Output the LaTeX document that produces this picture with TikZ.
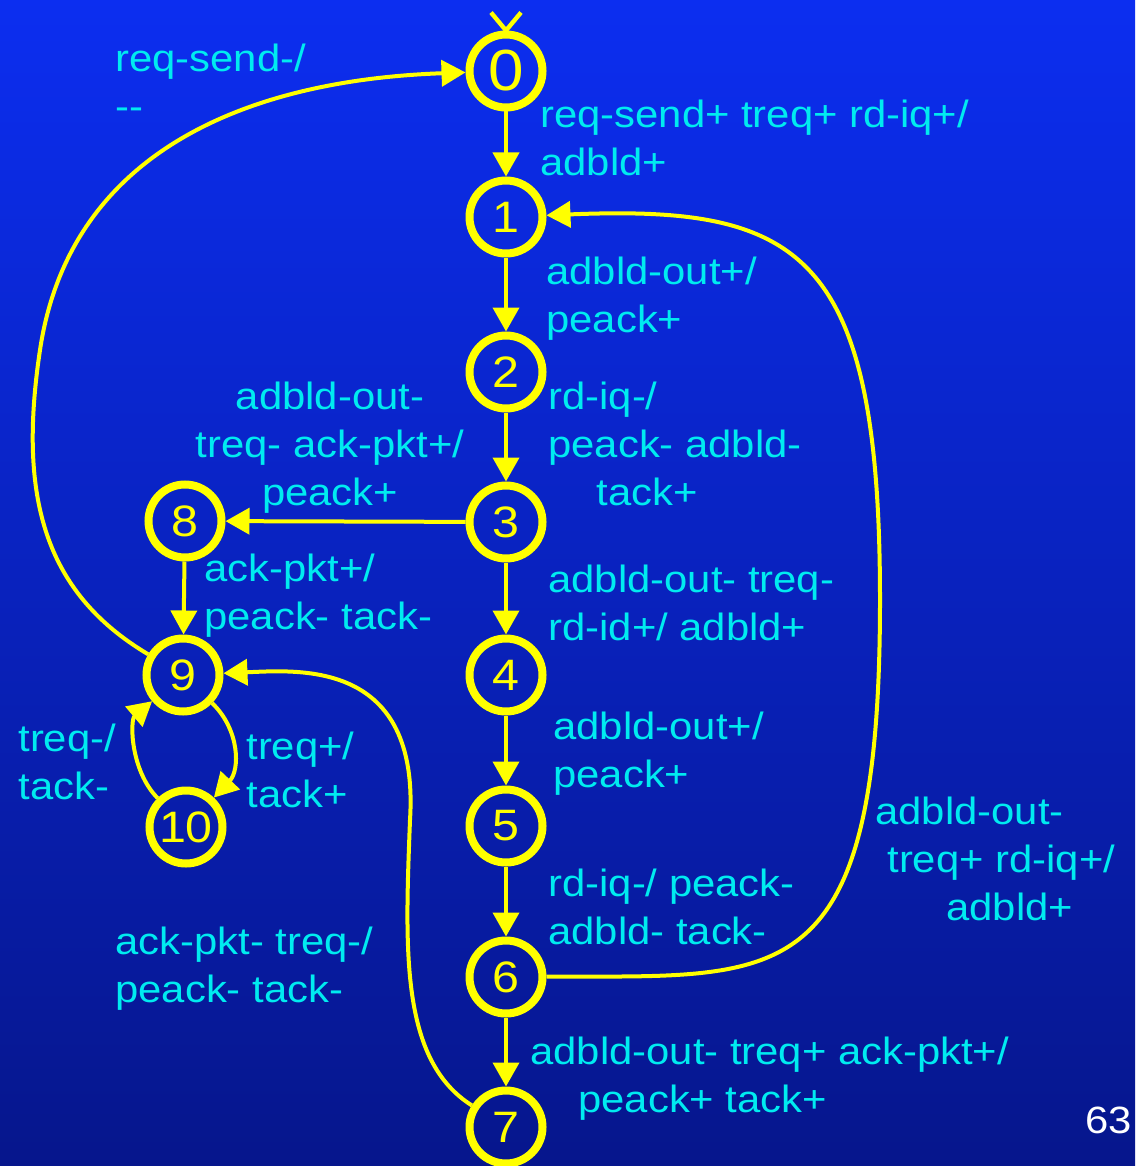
\documentclass[tikz,border=0pt]{standalone}
\usepackage{fontspec}
\setmainfont{Liberation Sans}[FakeStretch=1.1]
\usetikzlibrary{arrows.meta}
\definecolor{stateyellow}{RGB}{255,255,0}
\definecolor{labelcyan}{RGB}{0,235,240}
\definecolor{bgtop}{RGB}{12,46,240}
\definecolor{bgbottom}{RGB}{6,22,140}

\begin{document}
\begin{tikzpicture}[x=0.5pt,y=-0.5pt,->,>={Triangle[length=12pt,width=13pt]},
  state/.style={circle,draw=stateyellow,line width=4pt,minimum size=36.5pt,inner sep=0pt,
    text=stateyellow,font=\fontsize{22}{22}\selectfont},
  trans/.style={draw=stateyellow,line width=2pt},
  lbl/.style={text=labelcyan,font=\fontsize{19}{24}\selectfont,align=left,inner sep=0pt,anchor=base west}]
% background
\fill[top color=bgtop,bottom color=bgbottom] (0,0) rectangle (1135,1166);
\useasboundingbox (0,0) rectangle (1135,1166);

% states
\node[state,font=\fontsize{29}{29}\selectfont] (n0) at (506,71) {0};
\node[state] (n1) at (506,217) {1};
\node[state] (n2) at (506,372) {2};
\node[state] (n3) at (506,522) {3};
\node[state] (n4) at (506,675) {4};
\node[state] (n5) at (506,826) {5};
\node[state] (n6) at (506,977) {6};
\node[state] (n7) at (506,1127) {7};
\node[state] (n8) at (185,521) {8};
\node[state] (n9) at (183,675) {9};
\node[state] (n10) at (186,827) {10};

% initial mark on state 0
\draw[-,draw=stateyellow,line width=2.2pt] (n0.north) ++(-15,-18) -- (n0.north) -- ++(15,-18);

% main chain
\draw[trans] (n0) -- (n1);
\draw[trans] (n1) -- (n2);
\draw[trans] (n2) -- (n3);
\draw[trans] (n3) -- (n4);
\draw[trans] (n4) -- (n5);
\draw[trans] (n5) -- (n6);
\draw[trans] (n6) -- (n7);
\draw[trans] (n3) -- (n8);
\draw[trans] (n8) -- (n9);

% long arcs
\draw[trans] (n9) .. controls (40,590) and (19,490) .. (40,350)
  .. controls (70,150) and (250,80) .. (n0);
\draw[trans] (n6) .. controls (780,975) and (880,1000) .. (880,600)
  .. controls (880,250) and (800,205) .. (n1);
\draw[trans] (n7) .. controls (400,1060) and (405,950) .. (410,820)
  .. controls (420,660) and (300,670) .. (n9);

% small loop 9 <-> 10
\draw[trans] (n9) .. controls (240,730) and (240,770) .. (n10);
\draw[trans] (n10) .. controls (130,770) and (130,720) .. (n9);

% transition labels (placed at the baseline of their last line)
\node[lbl] (l90) at (115,120) {req-send-/\\-{}-};
\node[lbl] (l01) at (540,176) {req-send+ treq+ rd-iq+/\\adbld+};
\node[lbl] (l12) at (546,332) {adbld-out+/\\peack+};
\node[lbl] (l23) at (548,505) {rd-iq-/\\peack- adbld-\\\hspace*{24pt}tack+};
\node[lbl,align=center,anchor=base] (l38) at (330,505) {adbld-out-\\treq- ack-pkt+/\\peack+};
\node[lbl] (l89) at (204,629) {ack-pkt+/\\peack- tack-};
\node[lbl] (l34) at (548,640) {adbld-out- treq-\\rd-id+/ adbld+};
\node[lbl] (l45) at (553,787) {adbld-out+/\\peack+};
\node[lbl] (l109) at (18,799) {treq-/\\tack-};
\node[lbl] (l910) at (246,807) {treq+/\\tack+};
\node[lbl] (l61) at (875,920) {adbld-out-\\\hspace*{6pt}treq+ rd-iq+/\\\hspace*{35.5pt}adbld+};
\node[lbl] (l56) at (548,944) {rd-iq-/ peack-\\adbld- tack-};
\node[lbl] (l79) at (115,1002) {ack-pkt- treq-/\\peack- tack-};
\node[lbl] (l67) at (530,1112) {adbld-out- treq+ ack-pkt+/\\\hspace*{24pt}peack+ tack+};

% page number
\node[lbl,text=white] (page) at (1085,1133) {63};
\end{tikzpicture}
\end{document}
